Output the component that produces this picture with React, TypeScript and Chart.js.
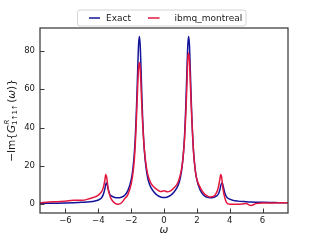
import React, { useEffect, useRef } from "react";
import { Chart, registerables } from "chart.js";

Chart.register(...registerables);

const omega = [
  -7.55, -7.0, -6.5, -6.0, -5.5, -5.0, -4.5, -4.2, -4.0, -3.8,
  -3.7, -3.6, -3.55, -3.5, -3.45, -3.4, -3.3, -3.2, -3.0, -2.8,
  -2.6, -2.4, -2.2, -2.0, -1.9, -1.8, -1.75, -1.7, -1.65, -1.6,
  -1.55, -1.5, -1.45, -1.4, -1.35, -1.3, -1.25, -1.2, -1.1, -1.0,
  -0.9, -0.8, -0.6, -0.4, -0.2,
  0,
  0.2, 0.4, 0.6, 0.8, 0.9, 1.0, 1.1, 1.2, 1.25, 1.3,
  1.35, 1.4, 1.45, 1.5, 1.55, 1.6, 1.65, 1.7, 1.75, 1.8,
  1.9, 2.0, 2.2, 2.4, 2.6, 2.8, 3.0, 3.2, 3.3, 3.4,
  3.45, 3.5, 3.55, 3.6, 3.7, 3.8, 4.0, 4.2, 4.5, 5.0,
  5.3, 5.6, 6.0, 6.5, 7.0, 7.55,
];

const exactValues = [
  0.4, 0.5, 0.55, 0.65, 0.8, 1.0, 1.3, 1.7, 2.2, 3.4,
  5.0, 8.0, 10.2, 11.2, 10.0, 8.0, 5.2, 4.3, 3.5, 3.3,
  3.6, 4.6, 7.1, 12.7, 18, 27.4, 34.6, 44.3, 56.5, 70.5,
  83, 87.5, 83, 71, 57, 45, 35.5, 28.5, 19.5, 14,
  10.8, 8.8, 6.2, 4.6, 3.8,
  3.5,
  3.8, 4.6, 6.2, 8.8, 10.8, 14, 19.5, 28.5, 35.5, 45,
  57, 71, 83, 87.5, 83, 70.5, 56.5, 44.3, 34.6, 27.4,
  18, 12.7, 7.4, 4.8, 3.7, 3.3, 3.5, 4.3, 5.2, 7.5,
  9.5, 10.8, 11.1, 9.5, 6.0, 4.0, 2.6, 2.0, 1.6, 1.3,
  1.15, 1.05, 0.95, 0.85, 0.8, 0.7,
];

const ibmqValues = [
  0.8, 1.2, 1.3, 1.6, 2.0, 2.0, 3.0, 3.8, 4.7, 6.5,
  8.5, 12.5, 15.5, 14.5, 11.5, 8.0, 4.5, 2.5, 0.6, 0.0,
  0.6, 2.8, 5.0, 10.5, 15.5, 24, 31, 40, 51, 62,
  71, 74, 71, 62, 51, 42, 35, 29, 21, 16,
  13, 11, 8.8, 7.5, 6.6,
  7.0,
  6.5, 7.0, 8.5, 10.5, 12.5, 15.5, 20, 28, 34, 42,
  52, 64, 76, 79, 75, 64, 53, 43, 35, 27,
  18, 13, 8.8, 6.0, 4.5, 3.8, 4.0, 6.0, 8.5, 13,
  15.5, 14.5, 11, 7.5, 3.5, 1.0, 0.0, 0.0, 0.0, 0.3,
  -0.7, 0.3, 0.6, 0.6, 0.7, 0.7,
];

const seriesNames = ["Exact", "ibmq_montreal"];
const seriesColors = ["#14149a", "#e3173e"];
const xTickValues = [-6, -4, -2, 0, 2, 4, 6];
const yTickValues = [0, 20, 40, 60, 80];

const FONT = "'DejaVu Sans', sans-serif";
const TEXT = "#1a1a1a";
const AXIS = "#3a3a3a";

const fmt = (v: number) => (v < 0 ? "\u2212" + Math.abs(v) : String(v));

const decorations = {
  id: "decorations",
  afterDraw(chart: any) {
    const { ctx, chartArea, scales } = chart;
    const { left, right, top, bottom } = chartArea;
    const xs = scales.x;
    const ys = scales.y;
    ctx.save();

    // inward ticks
    ctx.strokeStyle = AXIS;
    ctx.lineWidth = 1;
    ctx.beginPath();
    xs.ticks.forEach((t: any) => {
      const px = Math.round(xs.getPixelForValue(t.value)) + 0.5;
      ctx.moveTo(px, bottom);
      ctx.lineTo(px, bottom - 4.5);
    });
    ys.ticks.forEach((t: any) => {
      const py = Math.round(ys.getPixelForValue(t.value)) + 0.5;
      ctx.moveTo(left, py);
      ctx.lineTo(left + 4.5, py);
    });
    ctx.stroke();

    // frame
    ctx.lineWidth = 1.25;
    ctx.strokeRect(left, top, right - left, bottom - top);

    // legend
    const lx = 77.5, ly = 10, lw = 168.5, lh = 16, r = 2.5;
    ctx.beginPath();
    ctx.moveTo(lx + r, ly);
    ctx.lineTo(lx + lw - r, ly);
    ctx.quadraticCurveTo(lx + lw, ly, lx + lw, ly + r);
    ctx.lineTo(lx + lw, ly + lh - r);
    ctx.quadraticCurveTo(lx + lw, ly + lh, lx + lw - r, ly + lh);
    ctx.lineTo(lx + r, ly + lh);
    ctx.quadraticCurveTo(lx, ly + lh, lx, ly + lh - r);
    ctx.lineTo(lx, ly + r);
    ctx.quadraticCurveTo(lx, ly, lx + r, ly);
    ctx.closePath();
    ctx.fillStyle = "rgba(255,255,255,0.8)";
    ctx.fill();
    ctx.strokeStyle = "#d4d4d4";
    ctx.lineWidth = 1;
    ctx.stroke();

    const items = [
      { line: [89, 100], textX: 106 },
      { line: [148, 159.5], textX: 174.5 },
    ];
    const cy = ly + lh / 2;
    items.forEach((it, i) => {
      ctx.strokeStyle = seriesColors[i];
      ctx.lineWidth = 1.5;
      ctx.beginPath();
      ctx.moveTo(it.line[0], cy);
      ctx.lineTo(it.line[1], cy);
      ctx.stroke();
      ctx.fillStyle = TEXT;
      ctx.font = `9px ${FONT}`;
      ctx.textAlign = "left";
      ctx.textBaseline = "middle";
      ctx.fillText(seriesNames[i], it.textX, cy + 0.5);
    });

    // x title
    ctx.fillStyle = TEXT;
    ctx.font = `italic 10.5px ${FONT}`;
    ctx.textAlign = "center";
    ctx.textBaseline = "middle";
    ctx.fillText("\u03c9", (left + right) / 2, 230);

    // y title with super/subscripts
    const parts = [
      { t: "\u2212Im{", f: `10.5px ${FONT}`, dy: 0 },
      { t: "G", f: `italic 10.5px ${FONT}`, dy: 0 },
    ];
    const supR = { t: "R", f: `italic 7px ${FONT}`, dy: -4.5 };
    const sub = { t: "1\u21911\u2191", f: `7px ${FONT}`, dy: 3 };
    const tail = [
      { t: "(", f: `10.5px ${FONT}`, dy: 0 },
      { t: "\u03c9", f: `italic 10.5px ${FONT}`, dy: 0 },
      { t: ")}", f: `10.5px ${FONT}`, dy: 0 },
    ];
    const w = (p: any) => {
      ctx.font = p.f;
      return ctx.measureText(p.t).width;
    };
    const subW = Math.max(w(supR), w(sub));
    const total =
      parts.reduce((s, p) => s + w(p), 0) + subW + 1.5 + tail.reduce((s, p) => s + w(p), 0);
    ctx.translate(12, (top + bottom) / 2);
    ctx.rotate(-Math.PI / 2);
    ctx.textAlign = "left";
    ctx.textBaseline = "middle";
    let cx = -total / 2;
    parts.forEach((p) => {
      ctx.font = p.f;
      ctx.fillText(p.t, cx, p.dy);
      cx += w(p);
    });
    ctx.font = supR.f;
    ctx.fillText(supR.t, cx + 0.5, supR.dy);
    ctx.font = sub.f;
    ctx.fillText(sub.t, cx, sub.dy);
    cx += subW + 1.5;
    tail.forEach((p) => {
      ctx.font = p.f;
      ctx.fillText(p.t, cx, p.dy);
      cx += w(p);
    });

    ctx.restore();
  },
};

export default function App() {
  const ref = useRef<HTMLCanvasElement>(null);

  useEffect(() => {
    if (!ref.current) return;
    const chart = new Chart(ref.current, {
      type: "line",
      data: {
        datasets: [
          {
            label: seriesNames[0],
            data: omega.map((x, i) => ({ x, y: exactValues[i] })),
            borderColor: seriesColors[0],
            borderWidth: 1.5,
            pointRadius: 0,
            cubicInterpolationMode: "monotone",
            order: 2,
          },
          {
            label: seriesNames[1],
            data: omega.map((x, i) => ({ x, y: ibmqValues[i] })),
            borderColor: seriesColors[1],
            borderWidth: 1.5,
            pointRadius: 0,
            cubicInterpolationMode: "monotone",
            order: 1,
          },
        ],
      },
      options: {
        animation: false,
        responsive: false,
        maintainAspectRatio: false,
        devicePixelRatio: 1,
        layout: { padding: { left: 8, right: 32, top: 28, bottom: 0 } },
        plugins: { legend: { display: false }, tooltip: { enabled: false } },
        scales: {
          x: {
            type: "linear",
            min: -7.55,
            max: 7.55,
            grid: { display: false, drawTicks: false },
            border: { display: false },
            ticks: {
              font: { size: 8.5, family: FONT },
              color: TEXT,
              padding: 3,
              maxRotation: 0,
              autoSkip: false,
              includeBounds: false,
              callback: (v: any) => fmt(Number(v)),
            },
            afterBuildTicks: (s: any) => {
              s.ticks = xTickValues.map((value) => ({ value }));
            },
            afterFit: (s: any) => {
              s.height = 27;
            },
          },
          y: {
            type: "linear",
            min: -4.6,
            max: 92,
            grid: { display: false, drawTicks: false },
            border: { display: false },
            ticks: {
              font: { size: 8.5, family: FONT },
              color: TEXT,
              padding: 5,
              autoSkip: false,
              includeBounds: false,
              callback: (v: any) => fmt(Number(v)),
            },
            afterBuildTicks: (s: any) => {
              s.ticks = yTickValues.map((value) => ({ value }));
            },
            afterFit: (s: any) => {
              s.width = 32;
            },
          },
        },
      },
      plugins: [decorations],
    });
    return () => chart.destroy();
  }, []);

  return (
    <div style={{ position: "fixed", left: 0, top: 0, width: 320, height: 240, background: "#fff" }}>
      <canvas ref={ref} width={320} height={240} style={{ width: 320, height: 240, display: "block" }} />
    </div>
  );
}
